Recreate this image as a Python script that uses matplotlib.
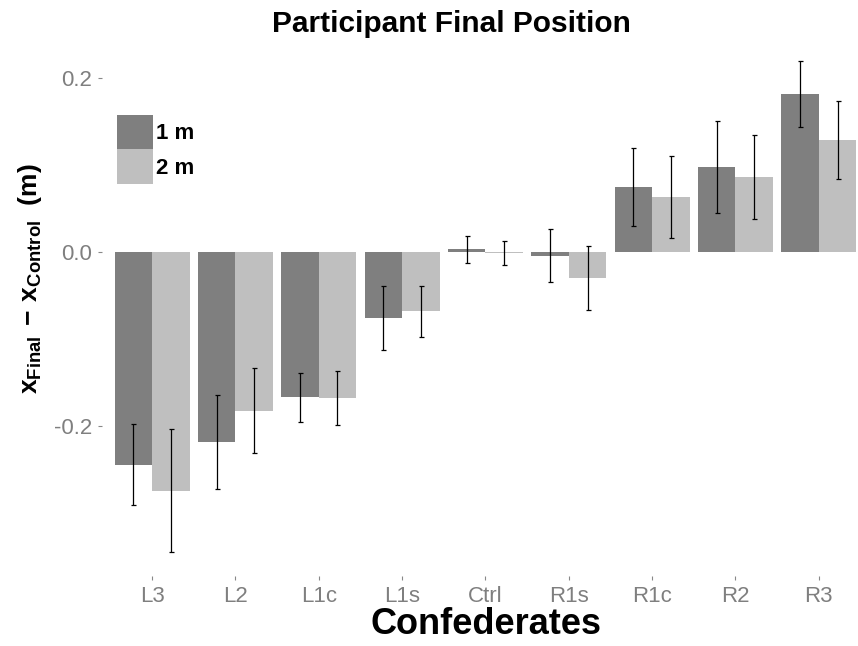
import numpy as np
import matplotlib
matplotlib.use('Agg')
import matplotlib.pyplot as plt

plt.rcParams['font.family'] = ['Liberation Sans', 'DejaVu Sans']
plt.rcParams['mathtext.fontset'] = 'custom'
plt.rcParams['mathtext.rm'] = 'Liberation Sans'
plt.rcParams['mathtext.bf'] = 'Liberation Sans:bold'

# Mean offset from control and standard error, per confederate
confederates = ['L3', 'L2', 'L1c', 'L1s', 'Ctrl', 'R1s', 'R1c', 'R2', 'R3']
mean_1m = [-0.244, -0.218, -0.167, -0.076, 0.003, -0.004, 0.075, 0.098, 0.182]
se_1m = [0.047, 0.054, 0.028, 0.037, 0.015, 0.030, 0.045, 0.053, 0.038]
mean_2m = [-0.274, -0.182, -0.168, -0.068, -0.001, -0.030, 0.063, 0.086, 0.129]
se_2m = [0.071, 0.049, 0.031, 0.029, 0.014, 0.037, 0.047, 0.048, 0.045]
distances = ['1 m', '2 m']
colors = ['#7f7f7f', '#bfbfbf']

W, H = 858, 646
fig = plt.figure(figsize=(W / 100, H / 100), dpi=100)
ax = fig.add_axes([102 / W, 1 - 576 / H, (858 - 102) / W, (576 - 37) / H])

x = np.arange(1, len(confederates) + 1)
bw = 0.45
handles = []
for i, (m, se) in enumerate([(mean_1m, se_1m), (mean_2m, se_2m)]):
    xpos = x + (i - 0.5) * bw
    bars = ax.bar(xpos, m, width=bw, color=colors[i], edgecolor='none',
                  label=distances[i], zorder=1)
    handles.append(bars)
    ax.errorbar(xpos, m, yerr=se, fmt='none', ecolor='black', elinewidth=0.9,
                capsize=1.8, capthick=0.9, zorder=2)

ax.set_xlim(0.4, 9.47)
ax.set_ylim(-0.372, 0.247)
ax.set_xticks(x)
ax.set_xticklabels(confederates)
ax.set_yticks([-0.2, 0.0, 0.2])
ax.set_yticklabels(['-0.2', '0.0', '0.2'])
for s in ax.spines.values():
    s.set_visible(False)
ax.tick_params(axis='both', colors='#888888', labelcolor='#7f7f7f',
               length=3, width=0.8, labelsize=16, pad=4)

fig.text(451 / W, 1 - 32 / H, 'Participant Final Position', ha='center',
         va='baseline', fontsize=21.5, fontweight='bold')
fig.text(486 / W, 1 - 634 / H, 'Confederates', ha='center', va='baseline',
         fontsize=26, fontweight='bold')
fig.text(30 / W, 1 - 279 / H,
         r'$\mathbf{x_{Final}\,-\,x_{Control}}$  (m)',
         rotation=90, ha='center', va='center', fontsize=19, fontweight='bold')

fig.legend(handles=handles, labels=distances, loc='upper left',
           bbox_to_anchor=(117 / W, 1 - 115 / H), frameon=False,
           borderpad=0, borderaxespad=0, labelspacing=0, handletextpad=0.15,
           handlelength=1.6, handleheight=2.0,
           prop={'size': 16, 'weight': 'bold'})

fig.savefig('out.png', dpi=100)
